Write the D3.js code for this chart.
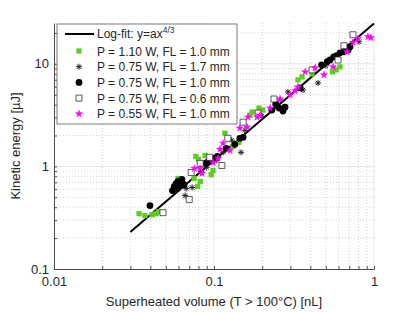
<!DOCTYPE html>
<html>
<head>
<meta charset="utf-8">
<script src="https://cdn.jsdelivr.net/npm/d3@7"></script>
<style>
  body { margin: 0; background: #fff; }
  text { font-family: "Liberation Sans", Arial, sans-serif; fill: #262626; }
</style>
</head>
<body>
<div class="chart"></div>
<script>
// ---- data ----
var fitX = [0.03, 1.0];
var fitY = [0.23, 24.7];

var greenX = [0.034, 0.037, 0.041, 0.0435, 0.045, 0.0596, 0.064, 0.075, 0.079, 0.082, 0.077, 0.080, 0.088, 0.096, 0.0986, 0.117, 0.1315, 0.143, 0.168, 0.173, 0.191, 0.202, 0.335, 0.355, 0.41, 0.55, 0.58, 0.613];
var greenY = [0.346, 0.331, 0.338, 0.346, 0.362, 0.763, 0.681, 0.763, 0.637, 0.713, 1.25, 1.17, 1.28, 0.83, 0.914, 2.11, 1.57, 1.72, 3.16, 3.38, 3.70, 3.54, 6.97, 7.46, 7.97, 8.35, 8.73, 9.35];

var astX = [0.067, 0.073, 0.066, 0.083, 0.090, 0.104, 0.114, 0.1475, 0.129, 0.156, 0.199, 0.259, 0.29, 0.36, 0.447, 0.50, 0.67, 0.806];
var astY = [0.609, 0.623, 0.52, 0.89, 0.98, 1.145, 1.37, 1.37, 1.80, 2.25, 3.09, 4.44, 5.32, 5.56, 6.51, 9.57, 14.4, 16.4];

var dotX = [0.0398, 0.055, 0.0565, 0.058, 0.0596, 0.0613, 0.063, 0.059, 0.065, 0.088, 0.092, 0.096, 0.1, 0.105, 0.119, 0.135, 0.145, 0.152, 0.23, 0.243, 0.255, 0.27, 0.278, 0.345, 0.47, 0.51, 0.531, 0.56, 0.585, 0.613, 0.649, 0.69, 0.708];
var dotY = [0.415, 0.582, 0.637, 0.681, 0.713, 0.651, 0.746, 0.609, 0.666, 1.07, 1.12, 1.145, 1.2, 1.25, 1.50, 1.64, 1.88, 1.92, 3.54, 4.05, 3.70, 3.46, 3.78, 5.82, 9.78, 10.5, 10.9, 11.7, 12.0, 12.8, 13.1, 13.7, 14.7];

var openX = [0.048, 0.070, 0.072, 0.082, 0.094, 0.112, 0.122, 0.152, 0.189, 0.237, 0.41, 0.596, 0.649, 0.739];
var openY = [0.354, 0.475, 0.873, 1.07, 1.226, 1.02, 1.88, 2.70, 3.31, 4.54, 8.73, 10.9, 15.0, 19.2];

var starX = [0.0755, 0.0841, 0.0818, 0.0986, 0.106, 0.109, 0.114, 0.126, 0.145, 0.161, 0.163, 0.186, 0.194, 0.224, 0.259, 0.299, 0.321, 0.335, 0.371, 0.428, 0.487, 0.555, 0.678, 0.739, 0.794, 0.917, 0.957];
var starY = [0.955, 0.854, 0.955, 1.09, 1.20, 1.47, 1.68, 1.43, 2.36, 2.41, 3.02, 3.02, 3.16, 3.70, 4.54, 4.97, 5.44, 5.95, 8.35, 9.14, 7.80, 9.35, 13.1, 16.1, 17.6, 18.4, 18.0];

var xTicks = [0.01, 0.1, 1];
var yTicks = [0.1, 1, 10];
var legendLabels = ["P = 1.10 W, FL = 1.0 mm", "P = 0.75 W, FL = 1.7 mm", "P = 0.75 W, FL = 1.0 mm", "P = 0.75 W, FL = 0.6 mm", "P = 0.55 W, FL = 1.0 mm"];

var svgWidth = 415, svgHeight = 312;
var margin = { top: 23, right: 41, bottom: 43, left: 54 };
var width = svgWidth - margin.left - margin.right;
var height = svgHeight - margin.top - margin.bottom;

var svg = d3.select(".chart").append("svg")
    .attr("width", svgWidth)
    .attr("height", svgHeight);

var chartGroup = svg.append("g")
    .attr("transform", `translate(${margin.left}, ${margin.top})`);

var xScale = d3.scaleLog().domain([0.01, 1]).range([0, width]);
var yScale = d3.scaleLog().domain([0.1, 25]).range([height, 0]);

// minor / major values for grid
var xMinor = [], yMinor = [];
[0.01, 0.1].forEach(function(d) { for (var k = 2; k <= 9; k++) xMinor.push(d * k); });
[0.1, 1, 10].forEach(function(d) { for (var k = 2; k <= 9; k++) if (d * k <= 25) yMinor.push(d * k); });

var grid = chartGroup.append("g");
grid.selectAll(".xminor").data(xMinor).enter().append("line")
    .attr("x1", d => xScale(d)).attr("x2", d => xScale(d))
    .attr("y1", 0).attr("y2", height)
    .attr("stroke", "#d4d4d4").attr("stroke-dasharray", "1,2");
grid.selectAll(".yminor").data(yMinor).enter().append("line")
    .attr("y1", d => yScale(d)).attr("y2", d => yScale(d))
    .attr("x1", 0).attr("x2", width)
    .attr("stroke", "#d4d4d4").attr("stroke-dasharray", "1,2");
grid.selectAll(".xmajor").data(xTicks.slice(1)).enter().append("line")
    .attr("x1", d => xScale(d)).attr("x2", d => xScale(d))
    .attr("y1", 0).attr("y2", height)
    .attr("stroke", "#e6e6e6");
grid.selectAll(".ymajor").data(yTicks.slice(1)).enter().append("line")
    .attr("y1", d => yScale(d)).attr("y2", d => yScale(d))
    .attr("x1", 0).attr("x2", width)
    .attr("stroke", "#e6e6e6");

// axes
var xAxis = d3.axisBottom(xScale).tickValues(xTicks.concat(xMinor)).tickSizeInner(-3).tickSizeOuter(0)
    .tickFormat(d => xTicks.indexOf(d) >= 0 ? String(d) : "");
var yAxis = d3.axisLeft(yScale).tickValues(yTicks.concat(yMinor)).tickSizeInner(-3).tickSizeOuter(0)
    .tickFormat(d => yTicks.indexOf(d) >= 0 ? String(d) : "");

var gx = chartGroup.append("g").attr("transform", `translate(0, ${height})`).call(xAxis);
var gy = chartGroup.append("g").call(yAxis);
[gx, gy].forEach(function(g) {
    g.select(".domain").attr("stroke", "#4d4d4d");
    g.selectAll(".tick line").attr("stroke", "#4d4d4d");
    g.selectAll(".tick text").attr("font-size", 13).attr("fill", "#262626")
        .style("font-family", "'Liberation Sans', Arial, sans-serif");
});
gx.selectAll(".tick text").attr("dy", "0.71em").attr("y", 8);
gy.selectAll(".tick text").attr("x", -5);

// fit line
var line = d3.line().x(d => xScale(d[0])).y(d => yScale(d[1]));
chartGroup.append("path")
    .datum(d3.zip(fitX, fitY))
    .attr("d", line)
    .attr("fill", "none").attr("stroke", "#000").attr("stroke-width", 2);

// markers
var green = "#5ccf1e", magenta = "#ff00ff";
var sq = d3.symbol().type(d3.symbolSquare).size(28)();
var sqOpen = d3.symbol().type(d3.symbolSquare).size(36)();
var circ = d3.symbol().type(d3.symbolCircle).size(36)();
var star = d3.symbol().type(d3.symbolStar).size(15)();
var ast = "M-3,0H3M0,-3V3M-2.2,-2.2L2.2,2.2M-2.2,2.2L2.2,-2.2";

function plot(xs, ys, path, fill, stroke, sw) {
    chartGroup.append("g").selectAll("path")
        .data(d3.zip(xs, ys))
        .enter().append("path")
        .attr("transform", d => `translate(${xScale(d[0])},${yScale(d[1])})`)
        .attr("d", path)
        .attr("fill", fill)
        .attr("stroke", stroke)
        .attr("stroke-width", sw);
}
plot(greenX, greenY, sq, green, "none", 0);
plot(astX, astY, ast, "none", "#222", 1);
plot(dotX, dotY, circ, "#000", "none", 0);
plot(openX, openY, sqOpen, "#fff", "#333", 0.8);
plot(starX, starY, star, magenta, magenta, 0.6);

// legend
var legend = svg.append("g").attr("transform", "translate(57, 24)");
legend.append("rect").attr("width", 180).attr("height", 100)
    .attr("fill", "#fff").attr("stroke", "#7a7a7a").attr("stroke-width", 1);
legend.append("line").attr("x1", 8).attr("x2", 37).attr("y1", 10).attr("y2", 10)
    .attr("stroke", "#000").attr("stroke-width", 2);
var lt = legend.append("text").attr("x", 40).attr("y", 14).attr("font-size", 12);
lt.append("tspan").text("Log-fit: y=ax");
lt.append("tspan").attr("dy", -5).attr("font-size", 8.5).text("4/3");

var legendMarks = [
    { d: sq, fill: green, stroke: "none", sw: 0 },
    { d: ast, fill: "none", stroke: "#222", sw: 1 },
    { d: circ, fill: "#000", stroke: "none", sw: 0 },
    { d: sqOpen, fill: "#fff", stroke: "#333", sw: 0.8 },
    { d: star, fill: magenta, stroke: magenta, sw: 0.6 }
];
legendLabels.forEach(function(lab, i) {
    var yy = 27 + i * 15.7;
    var m = legendMarks[i];
    legend.append("path").attr("transform", `translate(22, ${yy})`)
        .attr("d", m.d).attr("fill", m.fill).attr("stroke", m.stroke).attr("stroke-width", m.sw);
    legend.append("text").attr("x", 40).attr("y", yy + 4.5).attr("font-size", 12).text(lab);
});

// axis titles
svg.append("text").attr("x", margin.left + xScale(0.1)).attr("y", 306)
    .attr("text-anchor", "middle").attr("font-size", 13)
    .text("Superheated volume (T > 100°C) [nL]");
svg.append("text").attr("transform", "translate(20, 146) rotate(-90)")
    .attr("text-anchor", "middle").attr("font-size", 13)
    .text("Kinetic energy [µJ]");
</script>
</body>
</html>
